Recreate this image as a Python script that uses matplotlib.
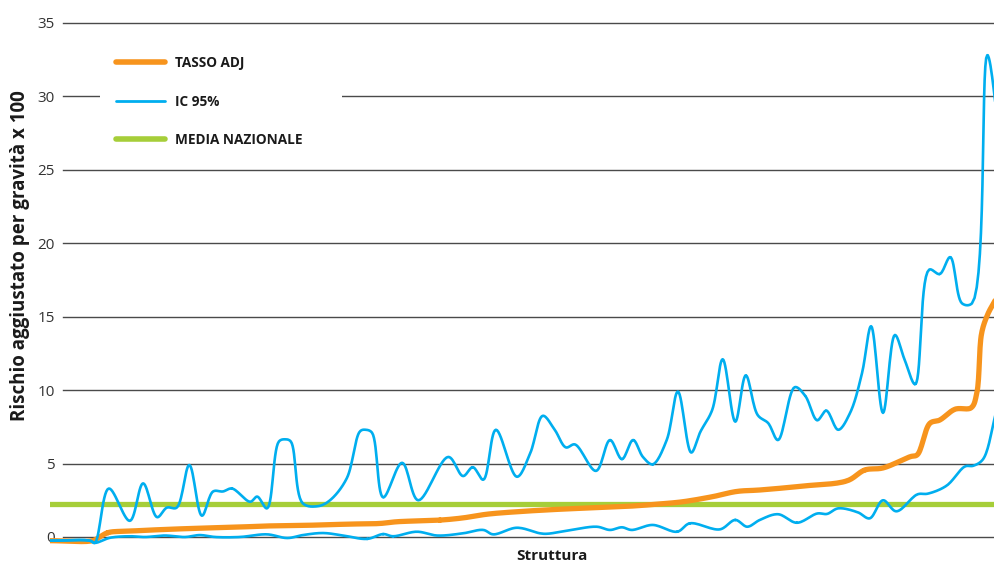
import numpy as np
import matplotlib
matplotlib.use("Agg")
import matplotlib.pyplot as plt
from matplotlib.lines import Line2D
from matplotlib.patches import Rectangle
from matplotlib import font_manager

# ── font: narrow humanist sans if available ─────────────────────────
_names = {f.name for f in font_manager.fontManager.ttflist}
FONT = "Liberation Sans Narrow" if "Liberation Sans Narrow" in _names else "Open Sans"
plt.rcParams["font.family"] = [FONT, "DejaVu Sans"]

# ── dati (indice struttura, valore) ─────────────────────────────────
X_IC_SUP = [0.0, 5.7, 6.4, 8.4, 11.4, 13.3, 15.3, 16.7, 18.1, 19.9, 21.7, 23.3,
            24.7, 26.0, 28.6, 29.6, 31.0, 32.7, 33.6, 34.4, 36.1, 38.3, 40.0,
            42.4, 44.3, 45.1, 46.0, 47.6, 50.3, 52.6, 56.9, 59.0, 60.4, 61.9,
            63.7, 66.7, 68.6, 70.4, 72.1, 73.7, 75.0, 78.0, 80.0, 81.7, 83.3,
            84.7, 86.1, 88.1, 89.7, 91.6, 92.9, 94.6, 96.1, 97.9, 99.4, 101.1,
            102.6, 104.0, 106.4, 107.9, 109.6, 110.9, 112.6, 114.3, 116.0,
            117.3, 119.0, 120.7, 122.1, 123.6, 125.6, 127.1, 128.6, 130.3,
            131.7, 133.9, 135.7]
IC_SUP = [-0.25, -0.25, -0.4, 3.3, 1.1, 3.65, 1.35, 2.0, 2.0, 4.9, 1.45, 3.1,
          3.1, 3.3, 2.4, 2.75, 1.95, 6.5, 6.65, 6.5, 2.3, 2.1, 2.5,
          4.0, 7.2, 7.3, 7.1, 2.7, 5.05, 2.5, 5.45, 4.15, 4.75, 3.9,
          7.3, 4.1, 5.7, 8.25, 7.3, 6.1, 6.3, 4.5, 6.6, 5.3, 6.6,
          5.45, 4.95, 6.6, 9.9, 5.75, 7.15, 8.65, 12.1, 7.85, 11.0, 8.3,
          7.75, 6.6, 10.2, 9.6, 7.95, 8.6, 7.3, 8.45, 11.15,
          14.35, 8.45, 13.75, 12.05, 10.4, 18.2, 17.9, 19.05, 15.9,
          15.9, 32.8, 27.0]

X_IC_INF = [0.0, 5.7, 6.4, 8.6, 11.4, 13.6, 16.4, 19.3, 21.4, 23.6, 27.1, 31.0,
            33.9, 36.1, 39.0, 41.9, 45.3, 47.6, 49.0, 52.4, 55.3, 59.0, 61.9,
            63.3, 66.7, 70.0, 71.0, 73.9, 78.1, 80.0, 81.7, 83.1, 86.1, 89.6,
            91.4, 95.7, 97.9, 99.6, 101.4, 104.0, 106.7, 109.6, 111.0, 112.6,
            115.4, 117.1, 119.0, 120.9, 123.9, 125.4, 128.1, 130.7, 131.9,
            133.3, 134.9, 135.7]
IC_INF = [-0.25, -0.25, -0.4, -0.05, 0.05, 0.0, 0.1, 0.0, 0.13, 0.0, 0.0, 0.18,
          -0.07, 0.13, 0.27, 0.1, -0.13, 0.2, 0.05, 0.36, 0.1, 0.25, 0.48,
          0.18, 0.63, 0.25, 0.22, 0.43, 0.7, 0.48, 0.66, 0.48, 0.82, 0.36,
          0.93, 0.52, 1.16, 0.7, 1.16, 1.55, 0.97, 1.6, 1.57, 1.95,
          1.68, 1.27, 2.5, 1.75, 2.9, 2.95, 3.5, 4.8, 4.85,
          5.3, 8.0, 9.8]

X_TASSO = [0.0, 6.1, 7.1, 8.3, 11.4, 15.7, 21.4, 27.1, 31.0, 37.1, 42.9, 47.1,
           49.6, 55.7, 59.0, 62.4, 66.7, 72.4, 78.1, 82.9, 87.1, 90.4, 94.7,
           98.1, 101.4, 107.6, 113.9, 116.4, 119.0, 122.9, 123.9, 125.7,
           127.1, 129.3, 131.6, 132.4, 133.1, 134.0, 134.9, 135.7]
TASSO_ADJ = [-0.25, -0.25, 0.0, 0.3, 0.4, 0.5, 0.6, 0.68, 0.75, 0.8, 0.88, 0.92,
             1.04, 1.15, 1.3, 1.55, 1.72, 1.88, 2.0, 2.1, 2.25, 2.4, 2.75,
             3.1, 3.2, 3.47, 3.83, 4.56, 4.7, 5.47, 5.6, 7.74,
             7.96, 8.7, 8.8, 9.8, 13.9, 15.2, 16.0, 16.7]

MEDIA_NAZIONALE = 2.25

Y_TICKS = [0, 5, 10, 15, 20, 25, 30, 35]
LABELS = ["TASSO ADJ", "IC 95%", "MEDIA NAZIONALE"]

ORANGE = "#F7941D"
BLUE = "#00AEEF"
GREEN = "#A6CE39"

# scala pixel per unità (per lisciare come una linea "smussata")
SX, SY = 7.0, 14.69


def smooth(x, y, n=16):
    """Catmull-Rom centripeta calcolata nello spazio schermo."""
    p = np.column_stack([np.asarray(x) * SX, np.asarray(y) * SY])
    p = np.vstack([2 * p[0] - p[1], p, 2 * p[-1] - p[-2]])
    out = []
    for i in range(1, len(p) - 2):
        p0, p1, p2, p3 = p[i - 1], p[i], p[i + 1], p[i + 2]
        t0 = 0.0
        t1 = t0 + np.linalg.norm(p1 - p0) ** 0.5 + 1e-9
        t2 = t1 + np.linalg.norm(p2 - p1) ** 0.5 + 1e-9
        t3 = t2 + np.linalg.norm(p3 - p2) ** 0.5 + 1e-9
        t = np.linspace(t1, t2, n)[:, None]
        a1 = (t1 - t) / (t1 - t0) * p0 + (t - t0) / (t1 - t0) * p1
        a2 = (t2 - t) / (t2 - t1) * p1 + (t - t1) / (t2 - t1) * p2
        a3 = (t3 - t) / (t3 - t2) * p2 + (t - t2) / (t3 - t2) * p3
        b1 = (t2 - t) / (t2 - t0) * a1 + (t - t0) / (t2 - t0) * a2
        b2 = (t3 - t) / (t3 - t1) * a2 + (t - t1) / (t3 - t1) * a3
        c = (t2 - t) / (t2 - t1) * b1 + (t - t1) / (t2 - t1) * b2
        out.append(c)
    c = np.vstack(out)
    return c[:, 0] / SX, c[:, 1] / SY


fig = plt.figure(figsize=(9.94, 5.64), dpi=100)
ax = fig.add_axes([50 / 994, 19 / 564, 944 / 994, 525 / 564])
ax.set_xlim(0, 944 / SX)
ax.set_ylim(-8 / SY, 517 / SY)

for v in Y_TICKS:
    ax.axhline(v, xmin=13 / 944, color="#4a4a4a", linewidth=1.0, zorder=1)

# riquadro bianco della legenda
ax.add_patch(Rectangle((100 / 994, 1 - 156 / 564), 242 / 994, 112 / 564,
                       transform=fig.transFigure, facecolor="white",
                       edgecolor="none", zorder=1.5, clip_on=False))

ax.axhline(MEDIA_NAZIONALE, color=GREEN, linewidth=3.8, zorder=2)
xs, ys = smooth(X_TASSO, TASSO_ADJ)
ax.plot(xs, ys, color=ORANGE, linewidth=3.8, solid_capstyle="round", zorder=3)
xs, ys = smooth(X_IC_SUP, IC_SUP)
ax.plot(xs, ys, color=BLUE, linewidth=1.9, zorder=4)
xs, ys = smooth(X_IC_INF, IC_INF)
ax.plot(xs, ys, color=BLUE, linewidth=1.9, zorder=4)

for s in ax.spines.values():
    s.set_visible(False)
ax.set_xticks([])
ax.set_yticks(Y_TICKS)
ax.tick_params(axis="y", length=0, pad=-3.6, labelsize=11, labelcolor="#333333")

handles = [
    Line2D([], [], color=ORANGE, linewidth=4, solid_capstyle="round"),
    Line2D([], [], color=BLUE, linewidth=2, solid_capstyle="round"),
    Line2D([], [], color=GREEN, linewidth=4, solid_capstyle="round"),
]
leg = ax.legend(handles, LABELS, loc="upper left",
                bbox_to_anchor=(116 / 994, 1 - 56 / 564),
                bbox_transform=fig.transFigure, frameon=False,
                borderpad=0, borderaxespad=0, handlelength=3.6,
                handletextpad=0.7, labelspacing=1.8,
                prop={"weight": "bold", "size": 9.8})
leg.set_zorder(6)
for t in leg.get_texts():
    t.set_color("#1a1a1a")

fig.text(552 / 994, 1 - 556 / 564, "Struttura", ha="center", va="center",
         fontsize=11, fontweight="bold", color="#1a1a1a")
fig.text(20 / 994, 1 - 256 / 564, "Rischio aggiustato per gravità x 100",
         ha="center", va="center", rotation=90, fontsize=13.5,
         fontweight="bold", color="#1a1a1a")

fig.savefig("out.png", dpi=100)
